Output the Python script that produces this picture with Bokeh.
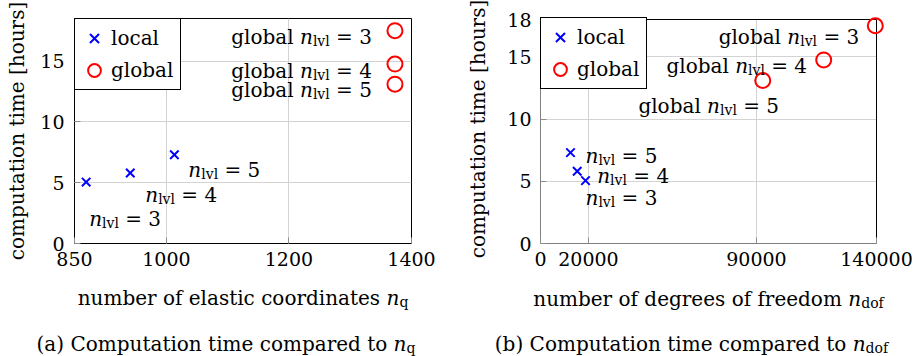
import glob
import os

from bokeh.plotting import figure
from bokeh.models import (Label, Legend, LegendItem, FixedTicker, Range1d,
                          BasicTickFormatter, BoxAnnotation)
from bokeh.layouts import row, column
from bokeh.embed import file_html
from bokeh.resources import INLINE

# ---------------- data ----------------
levels = [3, 4, 5]
time_local = [5.05, 5.8, 7.3]          # hours
time_global = [17.5, 14.75, 13.1]      # hours
nq_local = [869, 941, 1013]
nq_global = [1373, 1373, 1373]
ndof_local = [18750, 15300, 12500]
ndof_global = [139500, 118000, 92600]

xticks_a = [850, 1000, 1200, 1400]
xticks_b = [0, 20000, 90000, 140000]
yticks_a = [0, 5, 10, 15]
yticks_b = [0, 5, 10, 15, 18]
xrange_a = (850, 1400)
xrange_b = (0, 140000)
yrange_a = (0, 18.5)
yrange_b = (0, 18)

# ---------------- style / layout ----------------
FONT = "DejaVu Serif"
FS = 20          # texts
FS_TICK = 19     # tick labels
SUBFS = 14
SUBSHIFT = 4
GRID = "#d3d3d3"
TICK = "#8c8c8c"

H_PLOT, H_CAP = 278, 78
TOP_A, BOTTOM = 18, 35
W_A, BL_A, FW_A = 460, 74, 337
W_B, BL_B, BOXW_B = 457, 80, 336
EXT_R, EXT_T = 10, 5          # extra frame room (px) in (b) so edge markers are not clipped
TOP_B = 19 - EXT_T

# label offsets (px, right / down) relative to each point
local_a_off = [(3, 36.5, "left"), (15, 21.7, "left"), (14, 15.7, "left")]
global_a_off = [(-23, 6.7, "right"), (-23, 6.7, "right"), (-23, 6.2, "right")]
local_b_off = [(0, 17, "left"), (20, 4.3, "left"), (15, 3.4, "left")]
global_b_off = [(-16, 11, "right"), (-16.6, 5.7, "right"), (-54, 25.3, "center")]

# ---------------- text measuring ----------------
_fonts = {}


def _find(names):
    roots = ["/usr/share/fonts", "/usr/local/share/fonts",
             os.path.expanduser("~/.local/share/fonts"), os.path.expanduser("~/.fonts")]
    for root in roots:
        for n in names:
            hits = glob.glob(os.path.join(root, "**", n), recursive=True)
            if hits:
                return hits[0]
    return None


def measure(text, size, italic=False):
    try:
        from PIL import ImageFont
        key = (size, italic)
        if key not in _fonts:
            path = _find(["DejaVuSerif-Italic.ttf"] if italic else ["DejaVuSerif.ttf"])
            _fonts[key] = ImageFont.truetype(path, size)
        return _fonts[key].getlength(text)
    except Exception:
        return 0.6 * size * len(text)


def mtext(p, x, y, parts, dx, dy, align="left"):
    """parts: list of (text, kind) with kind in rm / it / sub / gap; dy is screen-down"""
    widths = []
    for t, k in parts:
        if k == "sub":
            widths.append(measure(t, SUBFS))
        elif k == "it":
            widths.append(measure(t, FS, True))
        else:
            widths.append(measure(t, FS))
    total = sum(widths)
    if align == "left":
        cur = dx
    elif align == "right":
        cur = dx - total
    else:
        cur = dx - total / 2
    for (t, k), w in zip(parts, widths):
        if k != "gap":
            size = SUBFS if k == "sub" else FS
            shift = SUBSHIFT if k == "sub" else 0
            p.add_layout(Label(x=x, y=y, x_offset=cur, y_offset=-(dy + shift), text=t,
                               text_font=FONT, text_font_size=f"{size}px",
                               text_font_style="italic" if k == "it" else "normal",
                               text_baseline="alphabetic", text_align="left",
                               text_color="black"))
        cur += w


def nlvl(level, prefix=False):
    parts = []
    if prefix:
        parts += [("global", "rm"), (" ", "gap")]
    parts += [("n", "it"), ("lvl", "sub"), (" ", "gap"), (f"= {level}", "rm")]
    return parts


def make_fig(width, bl, br, top, xr, yr, xt, yt, ylab_standoff, ytick_standoff):
    p = figure(width=width, height=H_PLOT, x_range=Range1d(*xr), y_range=Range1d(*yr),
               output_backend="svg", toolbar_location=None,
               min_border_left=bl, min_border_right=br, min_border_top=top,
               min_border_bottom=BOTTOM)
    p.frame_align = False
    p.outline_line_color = "black"
    p.outline_line_width = 1
    p.outline_line_alpha = 1
    p.background_fill_color = "white"
    p.border_fill_color = "white"
    for ax in (p.xaxis[0], p.yaxis[0]):
        ax.major_tick_in = 6
        ax.major_tick_out = 0
        ax.minor_tick_in = 0
        ax.minor_tick_out = 0
        ax.major_tick_line_color = TICK
        ax.axis_line_color = None
        ax.major_label_text_font = FONT
        ax.major_label_text_font_size = f"{FS_TICK}px"
        ax.major_label_text_color = "black"
    p.xaxis[0].ticker = FixedTicker(ticks=xt)
    p.yaxis[0].ticker = FixedTicker(ticks=yt)
    p.xgrid[0].ticker = FixedTicker(ticks=xt)
    p.ygrid[0].ticker = FixedTicker(ticks=yt)
    p.xaxis[0].formatter = BasicTickFormatter(use_scientific=False)
    p.xaxis[0].major_label_standoff = 8
    p.yaxis[0].major_label_standoff = ytick_standoff
    p.xgrid.grid_line_color = GRID
    p.ygrid.grid_line_color = GRID
    p.yaxis[0].axis_label = "computation time [hours]"
    p.yaxis[0].axis_label_text_font = FONT
    p.yaxis[0].axis_label_text_font_size = f"{FS}px"
    p.yaxis[0].axis_label_text_font_style = "normal"
    p.yaxis[0].axis_label_text_color = "black"
    p.yaxis[0].axis_label_standoff = ylab_standoff
    return p


def add_series(p, xl, xg, location):
    r_loc = p.scatter(xl, time_local, marker="x", size=12, line_color="blue", line_width=2)
    r_glo = p.scatter(xg, time_global, marker="circle", size=15, line_color="red",
                      fill_color=None, line_width=2)
    leg = Legend(items=[LegendItem(label="local", renderers=[r_loc]),
                        LegendItem(label="global", renderers=[r_glo])],
                 location=location, margin=0, padding=3, spacing=0,
                 glyph_width=32, glyph_height=32, label_height=32, label_width=66,
                 label_standoff=1, border_line_color="black", border_line_width=1,
                 border_line_alpha=1, background_fill_alpha=1,
                 label_text_font=FONT, label_text_font_size=f"{FS}px", label_text_color="black")
    p.add_layout(leg)


def caption_fig(width):
    c = figure(width=width, height=H_CAP, x_range=Range1d(0, width), y_range=Range1d(H_CAP, 0),
               output_backend="svg", toolbar_location=None, x_axis_location=None,
               y_axis_location=None, min_border=0, outline_line_color=None)
    c.frame_align = False
    c.grid.visible = False
    c.background_fill_color = "white"
    c.border_fill_color = "white"
    return c


# ---------------- (a) ----------------
pa = make_fig(W_A, BL_A, W_A - BL_A - FW_A, TOP_A, xrange_a, yrange_a, xticks_a, yticks_a, 8, 10)
add_series(pa, nq_local, nq_global, "top_left")
for lv, x, y, (dx, dy, al) in zip(levels, nq_local, time_local, local_a_off):
    mtext(pa, x, y, nlvl(lv), dx, dy, al)
for lv, x, y, (dx, dy, al) in zip(levels, nq_global, time_global, global_a_off):
    mtext(pa, x, y, nlvl(lv, True), dx, dy, al)

ca = caption_fig(W_A)
xc_a = BL_A + FW_A / 2
mtext(ca, xc_a, 0, [("number of elastic coordinates", "rm"), (" ", "gap"),
                    ("n", "it"), ("q", "sub")], 0, 297 - H_PLOT, "center")
mtext(ca, xc_a, 0, [("(a) Computation time compared to", "rm"), (" ", "gap"),
                    ("n", "it"), ("q", "sub")], -17, 343.5 - H_PLOT, "center")

# ---------------- (b) ----------------
FW_B = BOXW_B + EXT_R
FH_B = H_PLOT - TOP_B - BOTTOM
xspan_b = xrange_b[1] - xrange_b[0]
yspan_b = yrange_b[1] - yrange_b[0]
frame_xr_b = (xrange_b[0], xrange_b[1] + xspan_b * EXT_R / BOXW_B)
frame_yr_b = (yrange_b[0], yrange_b[1] + yspan_b * EXT_T / (FH_B - EXT_T))
pb = make_fig(W_B, BL_B, W_B - BL_B - FW_B, TOP_B, frame_xr_b, frame_yr_b,
              xticks_b, yticks_b, 14, 9)
pb.outline_line_color = None
pb.ygrid[0].cross_bounds = xrange_b
pb.xgrid[0].cross_bounds = yrange_b
pb.add_layout(BoxAnnotation(left=xrange_b[0], right=xrange_b[1], bottom=yrange_b[0],
                            top=yrange_b[1], fill_alpha=0, line_color="black",
                            line_width=1, line_alpha=1, level="underlay"))
LEG_H = 2 * 32 + 2 * 3
add_series(pb, ndof_local, ndof_global, (0, FH_B - EXT_T - LEG_H))
for lv, x, y, (dx, dy, al) in zip(levels, ndof_local, time_local, local_b_off):
    mtext(pb, x, y, nlvl(lv), dx, dy, al)
for lv, x, y, (dx, dy, al) in zip(levels, ndof_global, time_global, global_b_off):
    mtext(pb, x, y, nlvl(lv, True), dx, dy, al)

cb = caption_fig(W_B)
xc_b = BL_B + BOXW_B / 2
mtext(cb, xc_b, 0, [("number of degrees of freedom", "rm"), (" ", "gap"),
                    ("n", "it"), ("dof", "sub")], 0, 298 - H_PLOT, "center")
mtext(cb, xc_b, 0, [("(b) Computation time compared to", "rm"), (" ", "gap"),
                    ("n", "it"), ("dof", "sub")], -17, 343.5 - H_PLOT, "center")

layout = row(column(pa, ca), column(pb, cb))
open("out.html", "w").write(file_html(layout, INLINE))
